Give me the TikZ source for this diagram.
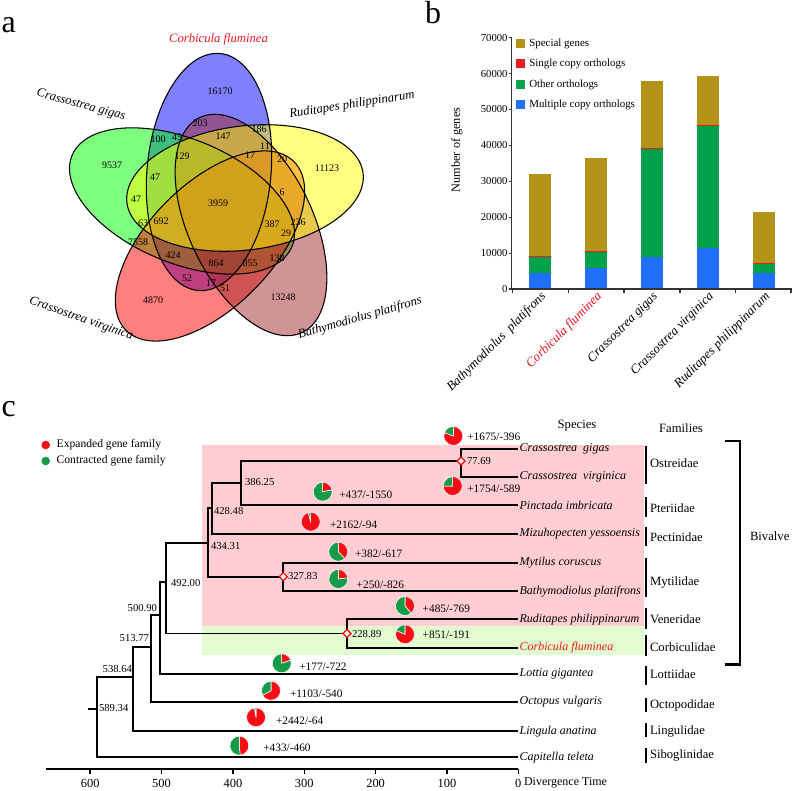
\documentclass[tikz,border=0pt]{standalone}
\usepackage{fontspec}
\setmainfont{Liberation Serif}
\usetikzlibrary{shapes.geometric}
\definecolor{vblue}{RGB}{0,0,255}
\definecolor{vgreen}{RGB}{0,255,0}
\definecolor{vred}{RGB}{255,0,0}
\definecolor{vbrown}{RGB}{165,42,42}
\definecolor{vyellow}{RGB}{255,255,0}
\definecolor{colive}{RGB}{179,148,25}
\definecolor{cred}{RGB}{237,28,36}
\definecolor{cgreen}{RGB}{0,161,75}
\definecolor{cblue}{RGB}{32,112,255}
\definecolor{pred}{RGB}{250,12,22}
\definecolor{pgreen}{RGB}{22,156,72}
\definecolor{bgpink}{RGB}{255,205,210}
\definecolor{bggreen}{RGB}{226,252,208}
\definecolor{labred}{RGB}{240,20,30}
\newcommand{\vennfill}[4]{\begin{scope}[shift={(#1,#2)},rotate=#3]\fill[#4,fill opacity=0.5] (0,0) ellipse [x radius=119,y radius=62];\end{scope}}
\newcommand{\venndraw}[3]{\begin{scope}[shift={(#1,#2)},rotate=#3]\draw[black,line width=0.8pt] (0,0) ellipse [x radius=119,y radius=62];\end{scope}}
\newcommand{\piechart}[4]{%
  \pgfmathsetmacro{\pieang}{90-360*(#3/(#3+#4))}%
  \path[fill=pred,draw=white,line width=0.4pt] (#1,#2) -- ++(90:7.1pt) arc[start angle=90,end angle=\pieang,radius=7.1pt] -- cycle;
  \path[fill=pgreen,draw=white,line width=0.4pt] (#1,#2) -- ++(\pieang:7.1pt) arc[start angle=\pieang,end angle=-270,radius=7.1pt] -- cycle;}
\newcommand{\stackbar}[5]{%
  \fill[cblue] ({#1-11.2},289) rectangle ({#1+11.2},{289-#2*3.59});
  \fill[cgreen] ({#1-11.2},{289-#2*3.59}) rectangle ({#1+11.2},{289-#3*3.59});
  \fill[cred] ({#1-11.2},{289-#3*3.59}) rectangle ({#1+11.2},{289-#4*3.59});
  \fill[colive] ({#1-11.2},{289-#4*3.59}) rectangle ({#1+11.2},{289-#5*3.59});}
\begin{document}
\begin{tikzpicture}[x=0.75pt,y=-0.75pt,
  every node/.style={inner sep=0pt,outer sep=0pt},
  vnum/.style={font=\fontsize{7.5}{9}\selectfont},
  vlab/.style={font=\fontsize{9.5}{11}\selectfont\itshape},
  panel/.style={font=\fontsize{24}{26}\selectfont,anchor=base west},
  ytick/.style={font=\fontsize{8}{9}\selectfont,anchor=east},
  leg/.style={font=\fontsize{8.2}{10}\selectfont,anchor=west},
  xlab/.style={font=\fontsize{9.7}{11}\selectfont\itshape,anchor=east,rotate=45},
  branch/.style={line width=1.4pt},
  sp/.style={font=\fontsize{9}{11}\selectfont\itshape,anchor=west,inner sep=1pt},
  fam/.style={font=\fontsize{9.5}{11}\selectfont,anchor=west},
  famline/.style={line width=1.6pt},
  nlab/.style={font=\fontsize{8}{10}\selectfont},
  plab/.style={font=\fontsize{8.5}{10}\selectfont,anchor=west},
  dia/.style={diamond,draw=red,fill=white,line width=0.9pt,minimum size=6pt,inner sep=0pt},
  axlab/.style={font=\fontsize{9.3}{11}\selectfont},
]
\fill[white] (0,0) rectangle (793,791);
\useasboundingbox (0,0) rectangle (793,791);

% ---------------- panel a ----------------
\node[panel] (pa) at (1.7,33) {a};
\vennfill{209}{172}{84.7}{vblue}
\vennfill{182}{201}{157.5}{vgreen}
\vennfill{210}{246}{45.2}{vred}
\vennfill{251}{225}{-64.5}{vbrown}
\vennfill{245}{188}{7.2}{vyellow}
\venndraw{209}{172}{84.7}
\venndraw{182}{201}{157.5}
\venndraw{210}{246}{45.2}
\venndraw{251}{225}{-64.5}
\venndraw{245}{188}{7.2}

\node[vnum] (v01) at (220,91) {16170};
\node[vnum] (v02) at (200,123) {203};
\node[vnum] (v03) at (259,129) {186};
\node[vnum] (v04) at (112,165) {9537};
\node[vnum] (v05) at (158,139) {100};
\node[vnum] (v06) at (177,137) {45};
\node[vnum] (v07) at (223,136) {147};
\node[vnum] (v08) at (265,146) {11};
\node[vnum] (v09) at (327,168) {11123};
\node[vnum] (v10) at (182,156) {129};
\node[vnum] (v11) at (250,155) {17};
\node[vnum] (v12) at (282,159) {20};
\node[vnum] (v13) at (155,177) {47};
\node[vnum] (v14) at (136,199) {47};
\node[vnum] (v15) at (218,203) {3959};
\node[vnum] (v16) at (282,192) {6};
\node[vnum] (v17) at (143,223) {63};
\node[vnum] (v18) at (161,221) {692};
\node[vnum] (v19) at (272,224) {387};
\node[vnum] (v20) at (298,222) {236};
\node[vnum] (v21) at (286,233) {29};
\node[vnum] (v22) at (138,242) {7558};
\node[vnum] (v23) at (173,255) {424};
\node[vnum] (v24) at (216,263) {864};
\node[vnum] (v25) at (250,263) {855};
\node[vnum] (v26) at (277,258) {138};
\node[vnum] (v27) at (187,278) {52};
\node[vnum] (v28) at (211,283) {17};
\node[vnum] (v29) at (225,288) {51};
\node[vnum] (v30) at (153,300) {4870};
\node[vnum] (v31) at (283,297) {13248};

\node[vlab,text=labred] (la1) at (218.5,39) {Corbicula fluminea};
\node[vlab,rotate=-15] (la2) at (81,105) {Crassostrea gigas};
\node[vlab,rotate=9] (la3) at (352,105) {Ruditapes philippinarum};
\node[vlab,rotate=-19.5] (la4) at (81,319) {Crassostrea virginica};
\node[vlab,rotate=16] (la5) at (360,318) {Bathymodiolus platifrons};

% ---------------- panel b ----------------
\node[panel] (pb) at (425,24) {b};
\stackbar{540}{4.54}{8.9}{9.2}{32.03}
\stackbar{596}{5.77}{10.4}{10.65}{36.49}
\stackbar{652}{8.83}{38.9}{39.15}{57.94}
\stackbar{708}{11.5}{45.5}{45.75}{59.33}
\stackbar{764}{4.54}{7.0}{7.25}{21.53}
\draw[black!80,line width=1.1pt] (511.7,37.7) -- (511.7,289) -- (791.7,289);
\foreach \v in {0,10,...,70} \draw[black!80,line width=0.8pt] (508.7,{289-\v*3.59}) -- (511.7,{289-\v*3.59});
\foreach \xx in {512.7,568.3,624,680,735.7,791} \draw[black!80,line width=0.8pt] (\xx,289) -- (\xx,293);
\node[ytick] (t0) at (507.5,289) {0};
\node[ytick] (t1) at (507.5,253.1) {10000};
\node[ytick] (t2) at (507.5,217.2) {20000};
\node[ytick] (t3) at (507.5,181.3) {30000};
\node[ytick] (t4) at (507.5,145.4) {40000};
\node[ytick] (t5) at (507.5,109.5) {50000};
\node[ytick] (t6) at (507.5,73.6) {60000};
\node[ytick] (t7) at (507.5,37.7) {70000};
\node[font=\fontsize{9.2}{11}\selectfont,rotate=90] (ylab) at (457,150) {Number of genes};
\fill[colive] (516,39.3) rectangle (525,48.3);
\fill[cred] (516,59.5) rectangle (525,68.5);
\fill[cgreen] (516,80.5) rectangle (525,89.5);
\fill[cblue] (516,100) rectangle (525,109);
\node[leg] (lg1) at (529.3,43.8) {Special genes};
\node[leg] (lg2) at (529.3,64) {Single copy orthologs};
\node[leg] (lg3) at (529.3,85) {Other orthologs};
\node[leg] (lg4) at (529.3,104.5) {Multiple copy orthologs};
\node[xlab] (xb1) at (544,295) {Bathymodiolus\ \ platifrons};
\node[xlab,text=labred] (xb2) at (600,295) {Corbicula fluminea};
\node[xlab] (xb3) at (656,295) {Crassostrea gigas};
\node[xlab] (xb4) at (712,295) {Crassostrea virginica};
\node[xlab] (xb5) at (768,295) {Ruditapes philippinarum};

% ---------------- panel c ----------------
\node[panel] (pc) at (1.7,416.7) {c};
\fill[bgpink] (201.7,445) rectangle (644,625.7);
\fill[bggreen] (201.7,625.7) rectangle (644,655);

\fill[pred] (45.7,445) circle [radius=4.3];
\fill[pgreen] (45.7,461) circle [radius=4.3];
\node[font=\fontsize{8.7}{10}\selectfont,anchor=west] (le1) at (56.7,445) {Expanded gene family};
\node[font=\fontsize{8.7}{10}\selectfont,anchor=west] (le2) at (56.7,461) {Contracted gene family};

\coordinate (lgig) at (518.3,449);
\coordinate (lvir) at (518.3,476.7);
\coordinate (lpin) at (518.3,505.3);
\coordinate (lmiz) at (518.3,534);
\coordinate (lmyt) at (518.3,562.7);
\coordinate (lbat) at (518.3,591.3);
\coordinate (lrud) at (518.3,619.3);
\coordinate (lcor) at (518.3,647.7);
\coordinate (llot) at (518.3,674.3);
\coordinate (loct) at (518.3,701.7);
\coordinate (llin) at (518.3,731.3);
\coordinate (lcap) at (518.3,757.3);
\coordinate (n7769) at (461,461);
\coordinate (n38625) at (241,483.3);
\coordinate (n42848) at (211.7,507.7);
\coordinate (n43431) at (207.7,542.7);
\coordinate (n32783) at (283.3,576.7);
\coordinate (n22889) at (347,633.5);
\coordinate (n49200) at (166,581.7);
\coordinate (n50090) at (160,615);
\coordinate (n51377) at (150.7,646.7);
\coordinate (n53864) at (133.3,676.7);
\coordinate (n58934) at (96.7,709);
\coordinate (root) at (88,709);

\draw[branch] (root) -- (n58934);
\draw[branch] (n58934) |- (n53864); \draw[branch] (n58934) |- (lcap);
\draw[branch] (n53864) |- (n51377); \draw[branch] (n53864) |- (llin);
\draw[branch] (n51377) |- (n50090); \draw[branch] (n51377) |- (loct);
\draw[branch] (n50090) |- (n49200); \draw[branch] (n50090) |- (llot);
\draw[branch] (n49200) |- (n43431); \draw[branch] (n49200) |- (n22889);
\draw[branch] (n43431) |- (n42848); \draw[branch] (n43431) |- (n32783);
\draw[branch] (n42848) |- (n38625); \draw[branch] (n42848) |- (lmiz);
\draw[branch] (n38625) |- (n7769); \draw[branch] (n38625) |- (lpin);
\draw[branch] (n7769) |- (lgig); \draw[branch] (n7769) |- (lvir);
\draw[branch] (n32783) |- (lmyt); \draw[branch] (n32783) |- (lbat);
\draw[branch] (n22889) |- (lrud); \draw[branch] (n22889) |- (lcor);

\node[dia] (d1) at (n7769) {};
\node[dia] (d2) at (n32783) {};
\node[dia] (d3) at (n22889) {};

\node[nlab,anchor=west] (nl1) at (467,461) {77.69};
\node[nlab,anchor=west] (nl2) at (245,482) {386.25};
\node[nlab,anchor=west] (nl3) at (214,511) {428.48};
\node[nlab,anchor=west] (nl4) at (211,546) {434.31};
\node[nlab,anchor=west] (nl5) at (288,576) {327.83};
\node[nlab,anchor=west] (nl6) at (352,634) {228.89};
\node[nlab,anchor=west] (nl7) at (171,583) {492.00};
\node[nlab,anchor=east] (nl8) at (157,608) {500.90};
\node[nlab,anchor=east] (nl9) at (149,638) {513.77};
\node[nlab,anchor=east] (nl10) at (132,669) {538.64};
\node[nlab,anchor=west] (nl11) at (99,708.5) {589.34};

\node[sp] (s1) at (lgig) {Crassostrea\ \ gigas};
\node[sp] (s2) at (lvir) {Crassostrea\ \ virginica};
\node[sp] (s3) at (lpin) {Pinctada imbricata};
\node[sp] (s4) at (lmiz) {Mizuhopecten yessoensis};
\node[sp] (s5) at (lmyt) {Mytilus coruscus};
\node[sp] (s6) at (lbat) {Bathymodiolus platifrons};
\node[sp] (s7) at (lrud) {Ruditapes philippinarum};
\node[sp,text=labred] (s8) at (lcor) {Corbicula fluminea};
\node[sp] (s9) at (llot) {Lottia gigantea};
\node[sp] (s10) at (loct) {Octopus vulgaris};
\node[sp] (s11) at (llin) {Lingula anatina};
\node[sp] (s12) at (lcap) {Capitella teleta};

\node[fam,anchor=center] (hsp) at (577,426) {Species};
\node[fam,anchor=center] (hfam) at (681,428) {Families};
\draw[famline] (646,445.7) -- (646,484.3);
\draw[famline] (646,497.3) -- (646,516.7);
\draw[famline] (646,526.7) -- (646,546);
\draw[famline] (646,558.3) -- (646,596.7);
\draw[famline] (646,608.3) -- (646,629.3);
\draw[famline] (646,635) -- (646,656);
\draw[famline] (646,666) -- (646,685);
\draw[famline] (646,697.7) -- (646,711.7);
\draw[famline] (646,723.3) -- (646,737.3);
\draw[famline] (646,747.7) -- (646,762.7);
\node[fam] (f1) at (650,462.7) {Ostreidae};
\node[fam] (f2) at (650,507.7) {Pteriidae};
\node[fam] (f3) at (650,536.7) {Pectinidae};
\node[fam] (f4) at (650,582) {Mytilidae};
\node[fam] (f5) at (650,619.3) {Veneridae};
\node[fam] (f6) at (650,646.7) {Corbiculidae};
\node[fam] (f7) at (650,674.3) {Lottiidae};
\node[fam] (f8) at (650,705) {Octopodidae};
\node[fam] (f9) at (650,731.7) {Lingulidae};
\node[fam] (f10) at (650,755.7) {Siboglinidae};
\draw[line width=1.9pt] (725,441) -- (740,441) -- (740,664.3) -- (725,664.3);
\node[fam] (fb) at (750,536) {Bivalve};

\piechart{453.3}{436}{1675}{396}
\piechart{322.7}{491.7}{437}{1550}
\piechart{310.7}{521.7}{2162}{94}
\piechart{338.3}{551.7}{382}{617}
\piechart{338.3}{579}{250}{826}
\piechart{452.7}{486}{1754}{589}
\piechart{405}{606}{485}{769}
\piechart{405}{634.3}{851}{191}
\piechart{281.7}{663.3}{177}{722}
\piechart{271}{690.7}{1103}{540}
\piechart{256}{717.3}{2442}{64}
\piechart{239.3}{745.7}{433}{460}
\node[plab] (p1) at (467.3,437.3) {+1675/-396};
\node[plab] (p2) at (339.3,494.3) {+437/-1550};
\node[plab] (p3) at (330,525) {+2162/-94};
\node[plab] (p4) at (355,554) {+382/-617};
\node[plab] (p5) at (356.7,584.5) {+250/-826};
\node[plab] (p6) at (467.3,488.3) {+1754/-589};
\node[plab] (p7) at (422.7,609) {+485/-769};
\node[plab] (p8) at (422.7,635) {+851/-191};
\node[plab] (p9) at (299.3,666.7) {+177/-722};
\node[plab] (p10) at (290,694) {+1103/-540};
\node[plab] (p11) at (276,721) {+2442/-64};
\node[plab] (p12) at (263.3,747.7) {+433/-460};

\draw[line width=1.1pt] (46,769) -- (518.3,769);
\foreach \t in {0,100,...,600} \draw[line width=1.1pt] ({518.3-\t*0.7135},769) -- ({518.3-\t*0.7135},774);
\node[axlab] (a600) at (90.2,783) {600};
\node[axlab] (a500) at (161.5,783) {500};
\node[axlab] (a400) at (233,783) {400};
\node[axlab] (a300) at (304.2,783) {300};
\node[axlab] (a200) at (375.6,783) {200};
\node[axlab] (a100) at (447,783) {100};
\node[axlab] (a0) at (518.3,783) {0};
\node[font=\fontsize{9}{11}\selectfont,anchor=west] (dt) at (524,783) {Divergence Time};
\end{tikzpicture}
\end{document}
